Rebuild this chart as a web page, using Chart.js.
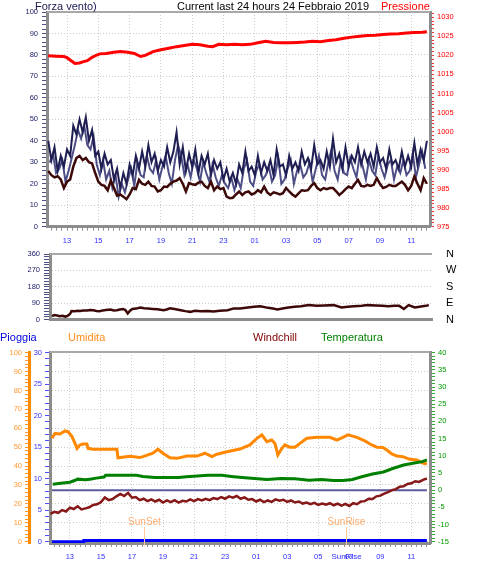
<!DOCTYPE html>
<html>
<head>
<meta charset="utf-8">
<script src="https://cdn.jsdelivr.net/npm/chart.js@4/dist/chart.umd.min.js"></script>
<style>
  body { margin: 0; background: #fff; }
  #wrap { position: relative; width: 478px; height: 572px; overflow: hidden; font-family: "Liberation Sans", Arial, sans-serif; }
  canvas { position: absolute; left: 0; }
  .lbl { position: absolute; font-size: 11px; line-height: 12px; white-space: nowrap; }
</style>
</head>
<body>
<div id="wrap">
  <canvas id="wind-chart" width="478" height="250" style="top:0"></canvas>
  <canvas id="dir-chart" width="478" height="80" style="top:250px"></canvas>
  <canvas id="weather-chart" width="478" height="242" style="top:330px"></canvas>
  <div class="lbl" style="left:35px;top:0;color:#1a1a50">Forza vento)</div>
  <div class="lbl" style="left:177px;top:0;color:#000">Current last 24 hours 24 Febbraio 2019</div>
  <div class="lbl" style="left:381px;top:0;color:#ff0000">Pressione</div>
  <div class="lbl" style="left:0;top:331px;color:#0000dd">Pioggia</div>
  <div class="lbl" style="left:68px;top:331px;color:#ff8c1a">Umidita</div>
  <div class="lbl" style="left:253px;top:331px;color:#800000">Windchill</div>
  <div class="lbl" style="left:321px;top:331px;color:#008000">Temperatura</div>
</div>
<script>
// hours counted from midnight of 23 Feb (25 = 01:00 on the 24th)
const hourTicks = [13, 15, 17, 19, 21, 23, 25, 27, 29, 31, 33, 35];
const hourLabels = ['13', '15', '17', '19', '21', '23', '01', '03', '05', '07', '09', '11'];
const xMin = 11.72, xMax = 36.2;

// wind gusts and average speed, sampled every 0.2 h from 11.8
const windStart = 11.8, windStep = 0.2;
const windGust = [
    40, 31, 37, 26, 33, 28, 36, 33, 47, 43, 50, 44, 51, 40, 45, 33, 35, 27, 34, 29,
    31, 22, 27, 18, 25, 20, 29, 24, 33, 27, 35, 28, 38, 30, 34, 26, 31, 28, 37, 30,
    35, 44, 29, 37, 26, 34, 28, 36, 25, 33, 29, 34, 24, 31, 27, 30, 22, 27, 21, 25,
    20, 29, 25, 35, 26, 28, 24, 33, 25, 30, 26, 31, 24, 36, 28, 29, 24, 33, 27, 30,
    26, 35, 29, 32, 27, 38, 29, 31, 27, 35, 28, 41, 30, 34, 27, 37, 28, 33, 30, 37,
    29, 35, 30, 34, 28, 37, 30, 32, 27, 36, 29, 31, 27, 35, 28, 33, 28, 39, 29, 36,
    31, 40
];
// sustained speed, sampled every 0.2 h from 11.9
const speedStart = 11.9, speedStep = 0.2;
const windSpeed = [
    30, 34, 25, 27, 31, 21, 26, 32, 38, 45, 41, 47, 38, 36, 42, 29, 24, 31, 22, 26,
    18, 24, 14, 20, 16, 22, 27, 19, 30, 24, 23, 33, 27, 25, 31, 22, 28, 33, 25, 20,
    31, 38, 33, 24, 29, 23, 31, 27, 21, 30, 25, 21, 29, 23, 19, 24, 20, 18, 23, 17,
    22, 18, 27, 31, 21, 19, 26, 29, 22, 24, 28, 21, 24, 32, 20, 22, 27, 31, 20, 26,
    29, 23, 25, 30, 21, 27, 33, 24, 22, 30, 36, 26, 22, 31, 25, 24, 32, 27, 23, 33,
    28, 22, 31, 26, 24, 33, 27, 23, 29, 31, 22, 28, 25, 31, 24, 26, 34, 23, 29, 35,
    27
];
const windAvg = [
    26, 24, 23, 23.5, 22, 18, 21, 22, 28, 32, 33, 31, 32, 30, 29.5, 25, 21, 19.5, 19, 17,
    21.5, 18, 14.5, 15, 14, 12.8, 15, 18, 17.5, 21.8, 20, 19.5, 21, 19, 18.7, 16.4, 17, 18.7, 18.5, 20,
    21, 21.5, 22.6, 20, 16.4, 20.3, 19.8, 19.5, 20.5, 21, 19, 18, 21, 17, 18.7, 17.5, 18, 14, 13.3, 13.5,
    15, 16.4, 14.8, 16, 16.4, 15, 15.6, 17, 16, 18.7, 16, 14.8, 16, 15.6, 15, 15.6, 18, 16.5, 15, 14,
    15.5, 17, 16.8, 17, 19, 20.3, 18, 17, 18, 17.5, 18, 18, 16.5, 14.8, 16, 17.5, 18.7, 18, 20, 21.8,
    19, 18.7, 19.5, 19, 19.5, 22.6, 20, 18, 18.5, 19.5, 19, 19, 20, 21, 19.5, 17, 19, 23.4, 20, 17,
    22.6, 20
];

const pressHours = [11.8, 12.3, 12.8, 13.0, 13.2, 13.5, 13.8, 14.0, 14.3, 14.6, 14.9, 15.1, 15.5, 16.0, 16.4,
    16.9, 17.3, 17.7, 18.0, 18.5, 19.0, 19.5, 20.0, 20.5, 21.0, 21.5, 22.0, 22.3, 22.7, 23.2, 23.7, 24.2,
    24.7, 25.2, 25.7, 26.2, 26.7, 27.2, 27.7, 28.2, 28.7, 29.2, 29.7, 30.2, 30.7, 31.2, 31.7, 32.2, 32.7,
    33.2, 33.7, 34.2, 34.7, 35.2, 35.7, 36.0];
const pressure = [1019.9, 1019.8, 1019.7, 1019.4, 1018.8, 1017.9, 1018.0, 1018.3, 1018.6, 1019.5, 1020.1,
    1020.4, 1020.5, 1020.8, 1021.0, 1020.8, 1020.5, 1019.7, 1020.0, 1021.0, 1021.5, 1021.9, 1022.3, 1022.6,
    1022.9, 1022.8, 1022.4, 1022.3, 1022.9, 1022.8, 1022.9, 1022.8, 1022.9, 1023.3, 1023.7, 1023.4, 1023.3,
    1023.3, 1023.4, 1023.5, 1023.7, 1023.6, 1023.9, 1024.1, 1024.5, 1024.8, 1025.0, 1025.2, 1025.3, 1025.5,
    1025.6, 1025.7, 1025.9, 1026.0, 1026.1, 1026.2];

const dirHours = [11.85, 12.0, 12.17, 12.35, 12.5, 12.7, 12.85, 13.0, 13.1, 13.3, 13.5, 13.65, 13.85, 14.1,
    14.3, 14.5, 14.7, 14.9, 15.1, 15.3, 15.6, 15.8, 16.0, 16.2, 16.4, 16.55, 16.7, 16.85, 17.0, 17.25, 17.5,
    17.75, 18.0, 18.3, 18.6, 19.0, 19.2, 19.4, 19.7, 20.1, 20.4, 20.7, 21.0, 21.4, 21.8, 22.2, 22.6, 23.1,
    23.5, 23.9, 24.4, 24.8, 25.2, 25.7, 26.0, 26.3, 26.7, 27.0, 27.4, 27.8, 28.3, 28.8, 29.3, 29.9, 30.4,
    30.8, 31.2, 31.7, 32.1, 32.6, 33.0, 33.4, 33.8, 34.1, 34.4, 34.7, 35.1, 35.5, 35.8, 36.0];
const dirDegrees = [18, 24, 22, 18, 20, 16, 20, 30, 46, 45, 48, 47, 50, 49, 52, 51, 47, 46, 50, 52, 55, 50,
    51, 55, 58, 52, 33, 48, 58, 60, 66, 62, 60, 58, 56, 51, 55, 62, 58, 51, 46, 42, 48, 45, 47, 44, 48, 51,
    61, 60, 66, 70, 73, 64, 60, 55, 62, 66, 70, 73, 79, 76, 77, 79, 66, 70, 73, 75, 79, 77, 75, 73, 75, 75,
    58, 79, 66, 72, 75, 79];
const compassDegrees = [0, 90, 180, 270, 360];
const compassLetters = ['N', 'E', 'S', 'W', 'N'];

const humHours = [11.85, 12.04, 12.36, 12.69, 12.88, 13.14, 13.33, 13.46, 13.65, 13.84, 14.1, 14.17, 14.49,
    16.03, 16.1, 16.87, 17.5, 17.71, 18.35, 18.67, 18.99, 19.45, 19.9, 20.54, 21.19, 21.7, 22.15, 22.47,
    23.12, 23.95, 24.6, 25.05, 25.37, 25.69, 26.0, 26.21, 26.4, 26.66, 26.85, 27.17, 27.5, 27.82, 28.27,
    28.91, 29.75, 30.2, 30.59, 30.91, 31.49, 32.0, 32.45, 32.78, 33.16, 33.42, 33.74, 34.06, 34.45, 34.9,
    35.35, 35.74, 36.0];
const humidity = [54.7, 57.3, 57, 58.6, 58.2, 55.6, 52, 49.4, 51.2, 51.7, 51.7, 49.4, 48.9, 48.9, 44.4, 45.2,
    44.5, 45, 46.8, 48.9, 46.8, 44.4, 44.1, 45.3, 45.3, 46.8, 45, 46.3, 47.6, 49, 51.2, 54.7, 56.5, 52.9,
    53.8, 52, 45.9, 49.4, 51.2, 50, 50, 52, 54.7, 55.2, 55.2, 53.8, 55.2, 56.5, 55.2, 53.3, 51.2, 50, 49.9,
    48.5, 46.4, 45.3, 45, 43.6, 43.2, 41.6, 41.1];

const tempHours = [11.9, 12.4, 13.0, 13.3, 13.5, 14.0, 14.3, 14.7, 15.2, 15.3, 16.2, 17.3, 17.7, 18.5, 20.0,
    20.5, 21.9, 22.8, 23.4, 24.1, 24.9, 25.7, 26.6, 27.5, 28.4, 29.2, 30.0, 30.6, 31.2, 31.8, 32.5, 33.2,
    33.8, 34.5, 35.1, 35.7, 36.0];
const temperature = [1.7, 2.0, 2.3, 2.8, 3.2, 3.0, 3.2, 3.5, 3.8, 4.3, 4.3, 4.3, 4.0, 3.7, 3.7, 3.9, 4.3, 4.3,
    4.0, 3.7, 3.4, 3.1, 3.4, 3.3, 2.9, 3.1, 2.8, 2.8, 3.1, 3.9, 4.7, 5.3, 6.3, 7.3, 7.8, 8.3, 8.8];

// windchill sampled every 0.25 h from 11.75
const chillStart = 11.75, chillStep = 0.25;
const windchill = [
    -6.9, -6.3, -6.6, -5.8, -6.2, -5.1, -5.5, -4.7, -5.6, -5.3, -5.0, -4.3, -4.1, -3.5, -2.1,
    -2.9, -2.6, -1.8, -1.1, -1.7, -0.8, -2.2, -2.0, -2.9, -2.5, -3.2, -2.7, -3.3, -2.8, -3.6,
    -3.0, -3.5, -2.9, -3.6, -3.1, -3.3, -2.7, -3.2, -2.6, -3.0, -2.5, -2.9, -2.3, -2.6, -2.0,
    -2.5, -1.8, -2.2, -1.7, -2.5, -2.1, -2.8, -2.6, -3.3, -2.8, -3.5, -3.0, -3.4, -2.7, -3.1,
    -2.8, -3.4, -3.0, -3.6, -3.3, -3.9, -3.6, -4.1, -3.7, -4.3, -3.9, -4.2, -3.8, -4.4, -3.9,
    -4.5, -4.0, -4.6, -3.8, -4.1, -3.3, -3.2, -2.5, -2.6, -1.8, -1.6, -1.0, -0.6, 0.0, 0.3,
    1.0, 1.1, 1.8, 2.0, 2.6, 2.4, 3.0, 3.4
];

const rainHours = [11.85, 13.85, 13.9, 36.0];
const rain = [0, 0, 0.2, 0.2];
const freezeHours = [11.85, 36.0];
const freezeLine = [0, 0];

const sunHours = [17.77, 30.78];
const sunNames = ['SunSet', 'SunRise'];
const sunOnAxis = [false, true];

const family = '"Liberation Sans", Arial, sans-serif';
Chart.defaults.font.family = family;

function pairs(hours, values) {
    return values.map((v, i) => ({ x: hours[i], y: v }));
}

function sampled(start, step, values) {
    return values.map((v, i) => ({ x: start + i * step, y: v }));
}

function tickValues(from, to, step) {
    const out = [];
    const n = Math.round((to - from) / step);
    for (let i = 0; i <= n; i++) out.push(+(from + i * step).toFixed(4));
    return out;
}

function isMajor(v, major) {
    const r = v / major;
    return Math.abs(r - Math.round(r)) < 1e-6;
}

function hourIndex(v) {
    return hourTicks.findIndex(h => Math.abs(h - v) < 1e-3);
}

function noPadding(s) {
    s.paddingTop = 0; s.paddingBottom = 0; s.paddingLeft = 0; s.paddingRight = 0;
}

function timeAxis(o) {
    return {
        type: 'linear', min: xMin, max: xMax,
        afterFit: s => { s.height = o.height; noPadding(s); },
        afterBuildTicks: s => { s.ticks = tickValues(12, 36, 1 / 3).map(v => ({ value: v })); },
        ticks: {
            display: o.labels, autoSkip: false, maxRotation: 0, minRotation: 0,
            color: '#3030ff', padding: o.padding, font: { size: 7.5 },
            callback: v => { const i = hourIndex(v); return i < 0 ? '' : hourLabels[i]; }
        },
        grid: {
            drawOnChartArea: o.grid, drawTicks: o.drawTicks !== false,
            color: c => (c.tick && hourIndex(c.tick.value) >= 0) ? '#cdcdcd' : 'rgba(0,0,0,0)',
            tickColor: '#909090', tickLength: 4
        },
        border: { color: '#8c8c8c', width: 3, dash: [1, 2] }
    };
}

function valueAxis(o) {
    return {
        type: 'linear', position: o.position, min: o.min, max: o.max, weight: o.weight || 0,
        afterFit: s => { s.width = o.width; noPadding(s); },
        afterBuildTicks: s => { s.ticks = tickValues(o.from, o.to, o.minor).map(v => ({ value: v })); },
        ticks: {
            autoSkip: false, color: o.color, padding: o.padding,
            font: { size: o.fontSize || 7.5 },
            callback: v => {
                if (!isMajor(v, o.major)) return '';
                if (o.names) return o.names[o.values.indexOf(v)];
                return String(v);
            }
        },
        grid: {
            drawOnChartArea: !!o.grid, drawTicks: o.tickLength > 0,
            color: c => (c.tick && isMajor(c.tick.value, o.major)) ? '#cdcdcd' : 'rgba(0,0,0,0)',
            tickColor: o.tickColor || o.color, tickLength: o.tickLength
        },
        border: { display: o.border !== false, color: o.borderColor || '#8c8c8c', width: 3, dash: [1, 2] }
    };
}

function series(data, color, width, yAxisID, order) {
    return { data, borderColor: color, borderWidth: width, pointRadius: 0, fill: false, tension: 0, yAxisID, order };
}

function baseOptions(top, scales) {
    return {
        responsive: false, animation: false, devicePixelRatio: 1, events: [],
        layout: { padding: { top, left: 0, right: 0, bottom: 0 } },
        plugins: { legend: { display: false }, tooltip: { enabled: false } },
        scales
    };
}

const framePlugin = {
    id: 'frame',
    beforeDatasetsDraw(chart) {
        const { ctx, chartArea: a } = chart;
        ctx.save();
        ctx.strokeStyle = '#a8a8a8';
        ctx.lineWidth = 2;
        ctx.beginPath();
        ctx.moveTo(a.left, a.top);
        ctx.lineTo(a.right, a.top);
        ctx.stroke();
        ctx.restore();
    }
};

const sunPlugin = {
    id: 'sun',
    afterDatasetsDraw(chart) {
        const { ctx, chartArea: a } = chart;
        const x = chart.scales.x;
        sunHours.forEach((h, i) => {
            const px = Math.round(x.getPixelForValue(h)) + 0.5;
            ctx.save();
            ctx.strokeStyle = '#ffcc99';
            ctx.lineWidth = 1;
            ctx.beginPath();
            ctx.moveTo(px, a.bottom - 16);
            ctx.lineTo(px, a.bottom + 3);
            ctx.stroke();
            ctx.fillStyle = '#ffac6e';
            ctx.font = `10px ${family}`;
            ctx.textAlign = 'center';
            ctx.textBaseline = 'middle';
            ctx.fillText(sunNames[i], px, a.bottom - 21);
            if (sunOnAxis[i]) {
                ctx.fillStyle = '#3030ff';
                ctx.font = `8px ${family}`;
                ctx.fillText(sunNames[i], px, a.bottom + 14);
            }
            ctx.restore();
        });
    }
};

new Chart(document.getElementById('wind-chart'), {
    type: 'line',
    data: {
        datasets: [
            series(sampled(windStart, windStep, windAvg), '#3c0808', 2.5, 'wind', 1),
            series(sampled(windStart, windStep, windGust), '#1e1e52', 2, 'wind', 2),
            series(sampled(speedStart, speedStep, windSpeed), '#4e4e86', 2, 'wind', 3),
            series(pairs(pressHours, pressure), '#ff0000', 3, 'press', 4)
        ]
    },
    options: baseOptions(12, {
        x: timeAxis({ height: 23.3, labels: true, grid: true, padding: 5.5 }),
        wind: valueAxis({ position: 'left', width: 47, min: 0, max: 100, from: 0, to: 100, minor: 2, major: 10,
            color: '#1a1a66', tickColor: '#50508a', tickLength: 5, padding: 4, grid: true }),
        press: valueAxis({ position: 'right', width: 48, min: 975, max: 1031.4, from: 975, to: 1031, minor: 1, major: 5,
            color: '#ff0000', tickColor: '#ff3030', tickLength: 4, padding: 3 })
    }),
    plugins: [framePlugin]
});

new Chart(document.getElementById('dir-chart'), {
    type: 'line',
    data: { datasets: [series(pairs(dirHours, dirDegrees), '#3c0808', 2.5, 'dir', 1)] },
    options: baseOptions(4, {
        x: timeAxis({ height: 10.5, labels: false, grid: false, padding: 0, drawTicks: false }),
        dir: valueAxis({ position: 'left', width: 50, min: 0, max: 360, from: 0, to: 360, minor: 15, major: 90,
            color: '#1a1a66', tickColor: '#50508a', tickLength: 6, padding: 4, grid: true }),
        compass: valueAxis({ position: 'right', width: 46, min: 0, max: 360, from: 0, to: 360, minor: 90, major: 90,
            color: '#000000', tickLength: 0, padding: 14, fontSize: 11, border: false,
            names: compassLetters, values: compassDegrees })
    }),
    plugins: [framePlugin]
});

new Chart(document.getElementById('weather-chart'), {
    type: 'line',
    data: {
        datasets: [
            series(pairs(tempHours, temperature), '#008000', 3, 'temp', 1),
            series(pairs(humHours, humidity), '#ff8800', 3, 'hum', 2),
            series(sampled(chillStart, chillStep, windchill), '#861818', 2.5, 'temp', 3),
            series(pairs(freezeHours, freezeLine), '#5a5a9e', 2, 'temp', 4),
            series(pairs(rainHours, rain), '#0000ff', 3, 'rain', 5)
        ]
    },
    options: baseOptions(22, {
        x: timeAxis({ height: 29, labels: true, grid: true, padding: 5.5 }),
        rain: valueAxis({ position: 'left', weight: 0, width: 21, min: -0.206, max: 30.11, from: 0, to: 30, minor: 1, major: 5,
            color: '#3333ff', tickColor: '#5050ff', tickLength: 5, padding: 3 }),
        hum: valueAxis({ position: 'left', weight: 1, width: 29, min: -0.69, max: 100.37, from: 0, to: 100, minor: 2, major: 10,
            color: '#ff9933', tickColor: '#ff9933', tickLength: 4, padding: 3, grid: true, borderColor: '#ff8c00' }),
        temp: valueAxis({ position: 'right', width: 48, min: -15.38, max: 40.2, from: -15, to: 40, minor: 1, major: 5,
            color: '#009900', tickColor: '#33aa33', tickLength: 5, padding: 3 })
    }),
    plugins: [framePlugin, sunPlugin]
});
</script>
</body>
</html>
